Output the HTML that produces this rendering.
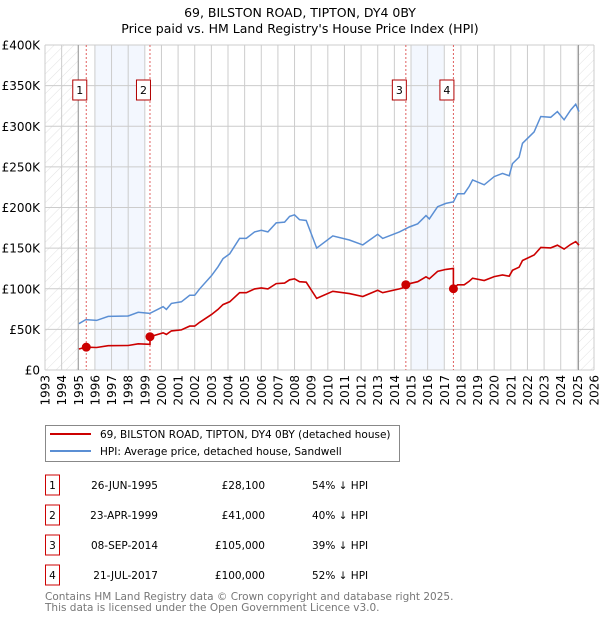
<!DOCTYPE html>
<html><head><meta charset="utf-8"><style>
body{margin:0;background:#fff;font-family:"Liberation Sans","DejaVu Sans",sans-serif}
svg{display:block}
</style></head><body>
<svg id="c" width="600" height="620" xmlns="http://www.w3.org/2000/svg" font-family="DejaVu Sans, Liberation Sans, sans-serif">
<defs>
<pattern id="hatch" patternUnits="userSpaceOnUse" width="7" height="7" patternTransform="rotate(45)">
<line x1="0" y1="0" x2="0" y2="7" stroke="#d6d6d6" stroke-width="0.7"/>
</pattern>
</defs>
<text x="300" y="17" text-anchor="middle" font-size="12.5">69, BILSTON ROAD, TIPTON, DY4 0BY</text>
<text x="300" y="33" text-anchor="middle" font-size="12.5">Price paid vs. HM Land Registry's House Price Index (HPI)</text>
<g id="plot"></g>
<g id="legend">
<rect x="45.5" y="425.5" width="354" height="36" fill="#fff" stroke="#888"/>
<line x1="50" y1="434" x2="91" y2="434" stroke="#cc0000" stroke-width="2"/>
<text x="100" y="438" font-size="10.5">69, BILSTON ROAD, TIPTON, DY4 0BY (detached house)</text>
<line x1="50" y1="451" x2="91" y2="451" stroke="#5b8fd4" stroke-width="2"/>
<text x="100" y="455" font-size="10.5">HPI: Average price, detached house, Sandwell</text>
</g>
<g id="table" font-size="10.5"></g>
<text x="45" y="600" font-size="10.5" fill="#777">Contains HM Land Registry data © Crown copyright and database right 2025.</text>
<text x="45" y="611" font-size="10.5" fill="#777">This data is licensed under the Open Government Licence v3.0.</text>
</svg>
<script>
const hpiYears=[1995.04,1995.45,1996.1,1996.8,1998.0,1998.6,1999.3,2000.1,2000.3,2000.6,2001.2,2001.7,2002.0,2002.3,2003.0,2003.4,2003.7,2004.1,2004.7,2005.1,2005.6,2006.0,2006.4,2006.9,2007.4,2007.7,2008.0,2008.3,2008.7,2009.33,2010.3,2011.3,2012.1,2013.0,2013.3,2014.3,2014.9,2015.4,2015.9,2016.1,2016.6,2017.1,2017.55,2017.8,2018.2,2018.5,2018.7,2019.4,2020.0,2020.5,2020.9,2021.1,2021.5,2021.7,2022.4,2022.8,2023.4,2023.8,2024.2,2024.6,2024.9,2025.1];
const hpiValues=[57,62,61,66,66.5,71,69.7,77.9,74.6,82,84,92,92,100,116,127,137,143,162,162,170,172,170,181,182,189,191,185,184,150,165,160,154,167,162,170,176,180,190,186,201,205,207,217,217,226,234,228,238,242,239,254,262,279,293,312,311,318,308,320,327,318];
const saleLabels=["1","2","3","4"];
const saleDates=["26-JUN-1995","23-APR-1999","08-SEP-2014","21-JUL-2017"];
const saleYears=[1995.48,1999.31,2014.69,2017.55];
const salePrices=[28100,41000,105000,100000];
const salePctText=["54% ↓ HPI","40% ↓ HPI","39% ↓ HPI","52% ↓ HPI"];
const bandStarts=[1996,2015];
const bandEnds=[1999,2017];
const yTicks=[0,50,100,150,200,250,300,350,400];
const yTickLabels=["£0","£50K","£100K","£150K","£200K","£250K","£300K","£350K","£400K"];
const xYears=[1993,1994,1995,1996,1997,1998,1999,2000,2001,2002,2003,2004,2005,2006,2007,2008,2009,2010,2011,2012,2013,2014,2015,2016,2017,2018,2019,2020,2021,2022,2023,2024,2025,2026];

const NS="http://www.w3.org/2000/svg";
const X0=45,X1=594,Y0=370,Y1=45;
const xs=y=>X0+(y-1993)/(2026-1993)*(X1-X0);
const ys=v=>Y0-v/400*(Y0-Y1);
const plot=document.getElementById('plot');
function mk(tag,attrs,parent){const e=document.createElementNS(NS,tag);for(const k in attrs)e.setAttribute(k,attrs[k]);(parent||plot).appendChild(e);return e;}
function hpiAt(t){if(t<=hpiYears[0])return hpiValues[0];for(let i=1;i<hpiYears.length;i++){if(t<=hpiYears[i]){const f=(t-hpiYears[i-1])/(hpiYears[i]-hpiYears[i-1]);return hpiValues[i-1]+f*(hpiValues[i]-hpiValues[i-1]);}}return hpiValues[hpiValues.length-1];}

let e;
e=mk('rect',{x:X0,y:Y1,width:xs(1995)-X0,height:Y0-Y1,fill:'url(#hatch)'});


e=mk('rect',{x:xs(2025.07),y:Y1,width:X1-xs(2025.07),height:Y0-Y1,fill:'url(#hatch)'});


bandStarts.forEach((s,i)=>{
 const b=mk('rect',{x:xs(s),y:Y1,width:xs(bandEnds[i])-xs(s),height:Y0-Y1,fill:'#f3f7fe'});
 
 
});
yTicks.forEach((v,i)=>{
 const l=mk('line',{x1:X0,x2:X1,y1:ys(v),y2:ys(v),stroke:'#cccccc','stroke-width':1});
 
 
 const t=mk('text',{x:40,y:ys(v)+4.5,'text-anchor':'end','font-size':12});
 t.textContent=yTickLabels[i];
 
 
});
xYears.forEach(yr=>{
 const l=mk('line',{x1:xs(yr),x2:xs(yr),y1:Y1,y2:Y0,stroke:'#cccccc','stroke-width':1});
 
 
 const t=mk('text',{x:0,y:0,'text-anchor':'end','font-size':12,transform:`translate(${xs(yr)+4.5},375) rotate(-90)`});
 t.textContent=yr;
 
 
});
e=mk('line',{x1:xs(1995),x2:xs(1995),y1:Y1,y2:Y0,stroke:'#999'});


e=mk('line',{x1:xs(2025.07),x2:xs(2025.07),y1:Y1,y2:Y0,stroke:'#999'});


saleYears.forEach((sy,i)=>{
 const l=mk('line',{x1:xs(sy),x2:xs(sy),y1:Y1,y2:Y0,stroke:'#e06060','stroke-dasharray':'2,2','stroke-width':1});
 
 
 const bx=xs(sy)-10;
 const r=mk('rect',{x:bx-3.5,y:80,width:14,height:20,fill:'#fff',stroke:'#b00000'});
 
 
 const t=mk('text',{x:bx+3.5,y:94,'text-anchor':'middle','font-size':11});
 t.textContent=saleLabels[i];
 
 
});
let d=hpiYears.map((t,i)=>(i?'L':'M')+xs(t).toFixed(1)+','+ys(hpiValues[i]).toFixed(1)).join('');
e=mk('path',{d:d,fill:'none',stroke:'#5b8fd4','stroke-width':1.5});


function segIdx(t){let k=0;for(let i=0;i<saleYears.length;i++)if(t>=saleYears[i])k=i;return k;}
const pts=[...hpiYears,...saleYears].sort((a,b)=>a-b);
let pd='';
pts.forEach((t,i)=>{
 const k=segIdx(t);
 const v=salePrices[k]/1000*hpiAt(t)/hpiAt(saleYears[k]);
 if(i&&saleYears.includes(t)&&k>0){const pv=salePrices[k-1]/1000*hpiAt(t)/hpiAt(saleYears[k-1]);pd+='L'+xs(t).toFixed(1)+','+ys(pv).toFixed(1);}
 pd+=(i?'L':'M')+xs(t).toFixed(1)+','+ys(v).toFixed(1);
});
e=mk('path',{d:pd,fill:'none',stroke:'#cc0000','stroke-width':1.6});


saleYears.forEach((sy,i)=>{
 const c=mk('circle',{cx:xs(sy),cy:ys(salePrices[i]/1000),r:4.5,fill:'#cc0000'});
 
 
});
const tb=document.getElementById('table');
saleLabels.forEach((lb,i)=>{
 const cy=485+i*30;
 const r=mk('rect',{x:45.5,y:cy-10,width:14,height:20,fill:'#fff',stroke:'#cc0000'},tb);
 
 
 let t=mk('text',{x:52.5,y:cy+4,'text-anchor':'middle'},tb);t.textContent=lb;
 
 
 t=mk('text',{x:158,y:cy+4,'text-anchor':'end'},tb);t.textContent=saleDates[i];
 
 
 t=mk('text',{x:265,y:cy+4,'text-anchor':'end'},tb);t.textContent='£'+salePrices[i].toLocaleString('en-GB');
 
 
 t=mk('text',{x:312,y:cy+4},tb);t.textContent=salePctText[i];
 
 
});
</script>
</body></html>
